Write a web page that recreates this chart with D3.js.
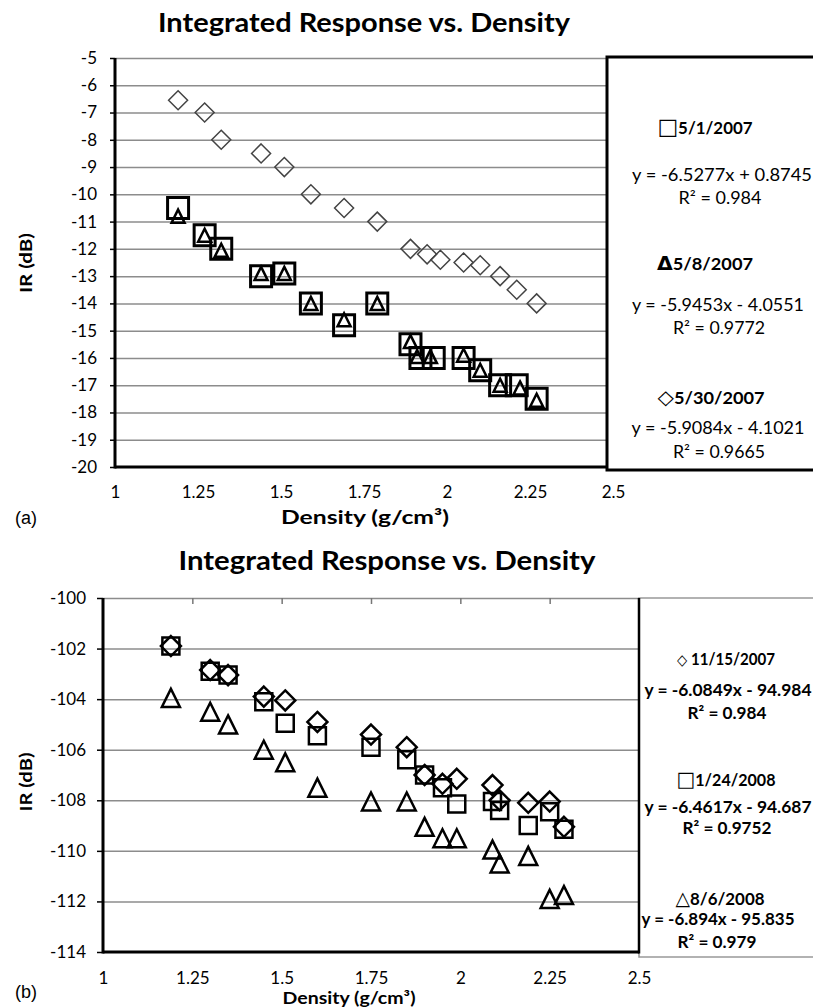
<!DOCTYPE html>
<html>
<head>
<meta charset="utf-8">
<script src="https://cdn.jsdelivr.net/npm/d3@7"></script>
<style>
  body { margin: 0; background: #fff; }
  svg { display: block; font-family: Lato, "Open Sans", sans-serif; }
</style>
</head>
<body>
<div id="chart"></div>
<script>
// ---------- panel (a) data ----------
const densityA_0501 = [1.19, 1.27, 1.32, 1.44, 1.51, 1.59, 1.69, 1.79, 1.89, 1.92, 1.96, 2.05, 2.10, 2.16, 2.21, 2.27];
const irA_0501      = [-10.5, -11.5, -12.0, -13.0, -12.9, -14.0, -14.8, -14.0, -15.5, -16.0, -16.0, -16.0, -16.45, -17.0, -17.0, -17.5];
const densityA_0508 = [1.19, 1.27, 1.32, 1.44, 1.51, 1.59, 1.69, 1.79, 1.89, 1.91, 1.95, 2.05, 2.10, 2.16, 2.22, 2.27];
const irA_0508      = [-10.8, -11.5, -12.05, -12.9, -12.9, -14.0, -14.6, -14.0, -15.4, -15.95, -15.95, -15.9, -16.45, -17.0, -17.1, -17.55];
const densityA_0530 = [1.19, 1.27, 1.32, 1.44, 1.51, 1.59, 1.69, 1.79, 1.89, 1.94, 1.98, 2.05, 2.10, 2.16, 2.21, 2.27];
const irA_0530      = [-6.55, -7.0, -8.0, -8.5, -9.0, -10.0, -10.5, -11.0, -12.0, -12.2, -12.4, -12.5, -12.6, -13.0, -13.5, -14.0];

const yTicksA = [-20, -19, -18, -17, -16, -15, -14, -13, -12, -11, -10, -9, -8, -7, -6, -5];
const legendA = ["□5/1/2007", "y = -6.5277x + 0.8745", "R² = 0.984",
                 "Δ5/8/2007", "y = -5.9453x - 4.0551", "R² = 0.9772",
                 "◇5/30/2007", "y = -5.9084x - 4.1021", "R² = 0.9665"];

// ---------- panel (b) data ----------
const densityB = [1.19, 1.30, 1.35, 1.45, 1.51, 1.60, 1.75, 1.85, 1.90, 1.95, 1.99, 2.09, 2.11, 2.19, 2.25, 2.29];
const irB_1115 = [-101.9, -102.85, -103.05, -103.9, -104.05, -104.9, -105.4, -105.9, -107.0, -107.35, -107.15, -107.4, -108.0, -108.1, -108.05, -109.05];
const irB_0124 = [-101.9, -102.9, -103.05, -104.1, -104.95, -105.45, -105.9, -106.4, -107.0, -107.5, -108.15, -108.05, -108.4, -109.0, -108.45, -109.15];
const irB_0806 = [-103.95, -104.5, -105.0, -106.0, -106.5, -107.5, -108.05, -108.05, -109.05, -109.5, -109.5, -109.95, -110.5, -110.2, -111.9, -111.75];

const yTicksB = [-114, -112, -110, -108, -106, -104, -102, -100];
const legendB = ["◇ 11/15/2007", "y = -6.0849x - 94.984", "R² = 0.984",
                 "□1/24/2008", "y = -6.4617x - 94.687", "R² = 0.9752",
                 "△8/6/2008", "y = -6.894x - 95.835", "R² = 0.979"];

const xTicks = [1, 1.25, 1.5, 1.75, 2, 2.25, 2.5];

const svg = d3.select("#chart").append("svg")
    .attr("width", 813)
    .attr("height", 1007);

// bbox-centred marker outlines
function markerPath(shape, s) {
    let h = s / 2;
    if (shape === "square") return `M${-h},${-h}H${h}V${h}H${-h}Z`;
    if (shape === "diamond") return `M0,${-h}L${h},0L0,${h}L${-h},0Z`;
    return `M0,${-h}L${h},${h}L${-h},${h}Z`;
}

function fit(sel, w) {
    sel.attr("textLength", w).attr("lengthAdjust", "spacingAndGlyphs");
}

const symbolChars = "□◇Δ△";

function drawPanel(cfg) {
    let g = svg.append("g");
    let x = d3.scaleLinear().domain([1, 2.5]).range(cfg.xRange);
    let y = d3.scaleLinear().domain(cfg.yDomain).range(cfg.yRange);
    let left = cfg.xRange[0];

    // gridlines
    g.append("g")
        .attr("transform", `translate(${left},0)`)
        .call(d3.axisLeft(y).tickValues(cfg.yTicks.slice(1)).tickSize(-(cfg.gridRight - left)).tickFormat(""))
        .call(a => a.select(".domain").remove())
        .call(a => a.selectAll("line").attr("stroke", "#8c8c8c").attr("stroke-width", 1.5));

    if (cfg.topTicks) {
        g.append("g")
            .attr("transform", `translate(0,${cfg.yRange[1]})`)
            .call(d3.axisBottom(x).tickValues(xTicks.slice(1, -1)).tickSize(6).tickFormat(""))
            .call(a => a.select(".domain").remove())
            .call(a => a.selectAll("line").attr("stroke", "#777").attr("stroke-width", 1.5));
    }

    // series
    cfg.series.forEach(s => {
        g.append("g").selectAll("path")
            .data(s.ir.map((v, i) => [s.density[i], v]))
            .enter()
            .append("path")
            .attr("transform", d => `translate(${x(d[0])},${y(d[1])})`)
            .attr("d", markerPath(s.shape, s.size))
            .attr("fill", "none")
            .attr("stroke", s.color)
            .attr("stroke-width", s.width)
            .attr("stroke-linejoin", "miter");
    });

    // y axis labels + ticks
    g.append("g")
        .attr("transform", `translate(${left},0)`)
        .call(d3.axisLeft(y).tickValues(cfg.yTicks).tickSize(cfg.tickSize).tickPadding(cfg.tickPad).tickFormat(d => String(d)))
        .call(a => a.select(".domain").remove())
        .call(a => a.selectAll("line").attr("stroke", "#000").attr("stroke-width", 1.5))
        .call(a => a.selectAll("text").attr("font-size", 17).attr("font-family", "Lato, sans-serif").attr("fill", "#000"));

    // x axis labels
    g.append("g")
        .attr("transform", `translate(0,${cfg.yRange[0]})`)
        .call(d3.axisBottom(x).tickValues(xTicks).tickSize(0).tickPadding(cfg.xPad).tickFormat(d => String(d)))
        .call(a => a.select(".domain").remove())
        .call(a => a.selectAll("text").attr("font-size", 17).attr("font-family", "Lato, sans-serif").attr("fill", "#000"));

    // legend box
    g.append("rect")
        .attr("x", cfg.legendBox[0]).attr("y", cfg.legendBox[1])
        .attr("width", cfg.legendBox[2]).attr("height", cfg.legendBox[3])
        .attr("fill", "#fff")
        .attr("stroke", cfg.legendStroke)
        .attr("stroke-width", cfg.legendStrokeW);

    // axis lines
    g.append("line")
        .attr("x1", left).attr("x2", left)
        .attr("y1", cfg.yRange[1]).attr("y2", cfg.yRange[0] + 1.5)
        .attr("stroke", "#000").attr("stroke-width", 3);
    g.append("line")
        .attr("x1", left).attr("x2", cfg.axisRight)
        .attr("y1", cfg.yRange[0]).attr("y2", cfg.yRange[0])
        .attr("stroke", "#000").attr("stroke-width", 3);
    if (cfg.rightBorder) {
        g.append("line")
            .attr("x1", cfg.axisRight).attr("x2", cfg.axisRight)
            .attr("y1", cfg.yRange[1]).attr("y2", cfg.yRange[0] + 1.5)
            .attr("stroke", "#000").attr("stroke-width", 2.5);
    }

    // titles
    g.append("text")
        .attr("x", cfg.title[0]).attr("y", cfg.title[1])
        .attr("text-anchor", "middle")
        .attr("font-weight", 700).attr("font-size", 27)
        .text("Integrated Response vs. Density")
        .call(fit, cfg.title[2]);

    g.append("text")
        .attr("x", cfg.xTitle[0]).attr("y", cfg.xTitle[1])
        .attr("text-anchor", "middle")
        .attr("font-weight", 700).attr("font-size", cfg.xTitle[3])
        .text("Density (g/cm³)")
        .call(fit, cfg.xTitle[2]);

    g.append("text")
        .attr("transform", `translate(${cfg.yTitle[0]},${cfg.yTitle[1]}) rotate(-90)`)
        .attr("text-anchor", "middle")
        .attr("font-weight", 700).attr("font-size", 17)
        .text("IR (dB)")
        .call(fit, cfg.yTitle[2]);

    g.append("text")
        .attr("x", 15).attr("y", cfg.tag[1])
        .attr("font-family", "Liberation Sans, Arial, sans-serif")
        .attr("font-size", 18)
        .text(cfg.tag[0]);

    // legend text; leading marker glyph drawn larger
    g.selectAll(".leg")
        .data(cfg.legend)
        .enter()
        .append("text")
        .attr("class", "leg")
        .attr("x", (d, i) => cfg.legendPos[i][0])
        .attr("y", (d, i) => cfg.legendPos[i][1])
        .attr("text-anchor", "middle")
        .attr("font-size", 17)
        .attr("font-weight", (d, i) => cfg.legendPos[i][3] ? 700 : 400)
        .each(function (d, i) {
            let t = d3.select(this);
            if (symbolChars.includes(d[0])) {
                t.append("tspan")
                    .attr("font-family", "DejaVu Sans, sans-serif")
                    .attr("font-size", cfg.symbolSize[d[0]])
                    .attr("font-weight", d[0] === "Δ" || (d[0] === "□" && cfg.boldSquare) ? 700 : 400)
                    .text(d[0]);
                t.append("tspan").text(d.slice(1));
            } else {
                t.text(d);
            }
            t.call(fit, cfg.legendPos[i][2]);
        });
}

drawPanel({
    xRange: [115, 613],
    yDomain: [-20, -5],
    yRange: [467, 58],
    yTicks: yTicksA,
    gridRight: 606,
    axisRight: 606,
    tickSize: 5,
    tickPad: 13,
    xPad: 19,
    series: [
        {density: densityA_0501, ir: irA_0501, shape: "square", size: 21, color: "#000", width: 3},
        {density: densityA_0508, ir: irA_0508, shape: "triangle", size: 13, color: "#000", width: 2.5},
        {density: densityA_0530, ir: irA_0530, shape: "diamond", size: 19, color: "#444", width: 1.5}
    ],
    legendBox: [607, 57, 220, 413],
    legendStroke: "#000",
    legendStrokeW: 3,
    title: [364, 32, 412],
    xTitle: [365, 524, 168, 19],
    yTitle: [32, 263, 60],
    tag: ["(a)", 524],
    legend: legendA,
    symbolSize: {"□": 22, "Δ": 19, "◇": 20},
    legendPos: [
        [705, 134, 95, true], [722, 181, 180, false], [720, 204, 83, false],
        [705, 270, 96, true], [718, 311, 172, false], [719, 334, 92, false],
        [711, 404, 107, true], [718, 434, 173, false], [719, 458, 92, false]
    ]
});

drawPanel({
    xRange: [103, 639],
    yDomain: [-114, -100],
    yRange: [952, 598],
    yTicks: yTicksB,
    gridRight: 639,
    axisRight: 639,
    rightBorder: true,
    topTicks: true,
    tickSize: 6,
    tickPad: 11,
    xPad: 20,
    series: [
        {density: densityB, ir: irB_0124, shape: "square", size: 17, color: "#000", width: 2.5},
        {density: densityB, ir: irB_1115, shape: "diamond", size: 20, color: "#000", width: 2.5},
        {density: densityB, ir: irB_0806, shape: "triangle", size: 18, color: "#000", width: 2.5}
    ],
    legendBox: [639, 598, 190, 359],
    legendStroke: "#999",
    legendStrokeW: 1.5,
    title: [387, 570, 417],
    xTitle: [349, 1004, 133, 17],
    yTitle: [32, 782, 59],
    tag: ["(b)", 998],
    legend: legendB,
    boldSquare: true,
    symbolSize: {"◇": 15, "□": 21, "△": 19},
    legendPos: [
        [726, 665, 98, true], [728, 696, 167, true], [727, 719, 79, true],
        [726, 786, 99, true], [728, 813, 167, true], [727, 834, 89, true],
        [720, 905, 89, true], [718, 925, 153, true], [717, 948, 79, true]
    ]
});
</script>
</body>
</html>
